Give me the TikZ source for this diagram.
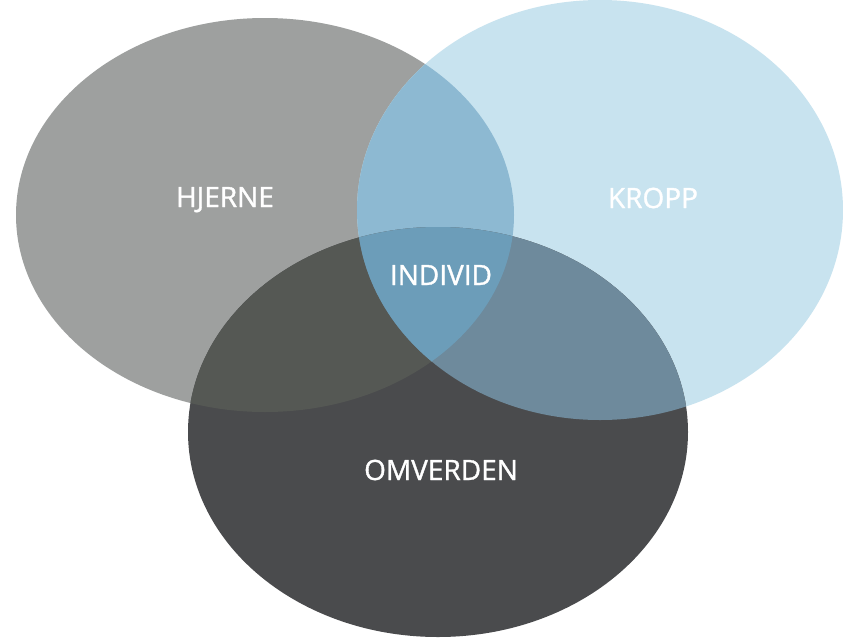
\documentclass[tikz,border=0pt]{standalone}
\usepackage{fontspec}
\setmainfont{Open Sans}
\newfontfamily\lblfont[FakeBold=1.2]{Open Sans}
\definecolor{cG}{HTML}{9EA09F}
\definecolor{cB}{HTML}{C8E3EF}
\definecolor{cD}{HTML}{4A4B4D}
\definecolor{cGB}{HTML}{8DB9D2}
\definecolor{cGD}{HTML}{555854}
\definecolor{cBD}{HTML}{6E8A9C}
\definecolor{cC}{HTML}{6C9DB9}
\begin{document}
\begin{tikzpicture}[x=1pt,y=-1pt,
  lbl/.style={text=white,font=\lblfont\fontsize{28}{30}\selectfont,inner sep=0pt,anchor=base}]
\fill[white] (0,0) rectangle (843,637);
\useasboundingbox (0,0) rectangle (843,637);
\def\G{(265,215) ellipse [x radius=249pt,y radius=197pt]}
\def\B{(600,210) ellipse [x radius=243pt,y radius=210pt]}
\def\D{(438,432) ellipse [x radius=250pt,y radius=205pt]}
\fill[cG] \G;
\fill[cB] \B;
\fill[cD] \D;
\begin{scope}
  \clip \G;
  \fill[cGB] \B;
  \fill[cGD] \D;
\end{scope}
\begin{scope}
  \clip \B;
  \fill[cBD] \D;
\end{scope}
\begin{scope}
  \clip \G;
  \clip \B;
  \fill[cC] \D;
\end{scope}
\node[lbl] (hjerne) at (225,207) {HJERNE};
\node[lbl] (kropp) at (653,208) {KROPP};
\node[lbl] (individ) at (441,285) {INDIVID};
\node[lbl] (omverden) at (441,480) {OMVERDEN};
\end{tikzpicture}
\end{document}
